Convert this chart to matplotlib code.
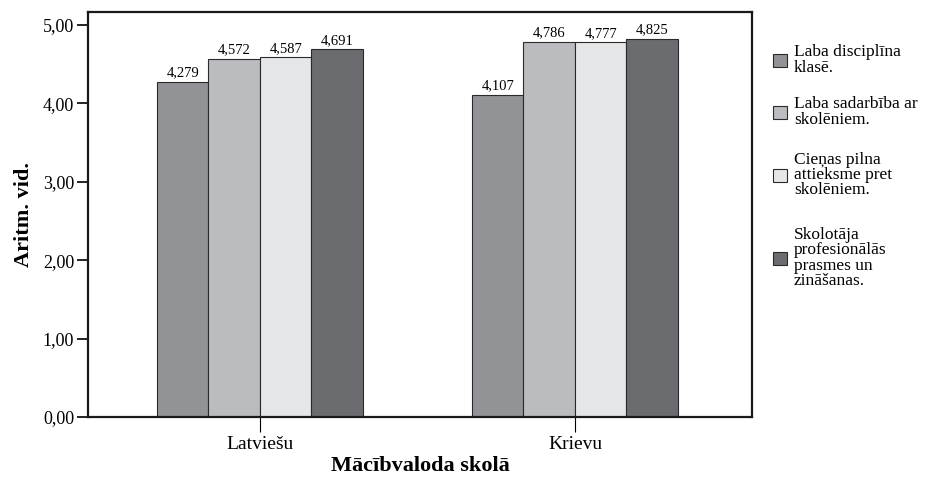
import numpy as np
import matplotlib.pyplot as plt
from matplotlib.patches import Rectangle

plt.rcParams['font.family'] = ['Liberation Serif', 'DejaVu Serif']

groups = ['Latviešu', 'Krievu']
series = [
    'Laba disciplīna\nklasē.',
    'Laba sadarbība ar\nskolēniem.',
    'Cieņas pilna\nattieksme pret\nskolēniem.',
    'Skolotāja\nprofesionālās\nprasmes un\nzināšanas.',
]
values = [
    [4.279, 4.107],
    [4.572, 4.786],
    [4.587, 4.777],
    [4.691, 4.825],
]
colors = ['#929397', '#bbbcc0', '#e5e6e8', '#6b6c70']
yticks = [0, 1, 2, 3, 4, 5]

W, H = 926, 479
fig = plt.figure(figsize=(W / 100, H / 100), dpi=100)
ax = fig.add_axes([88 / W, 1 - 417 / H, (752 - 88) / W, (417 - 12) / H])

x = np.arange(len(groups))
w = 0.1635
for i, (vals, c) in enumerate(zip(values, colors)):
    pos = x + (i - 1.5) * w
    ax.bar(pos, vals, width=w, color=c, edgecolor='#2a2a2a', linewidth=0.8)
    for p, v in zip(pos, vals):
        ax.text(p, v + 0.03, f'{v:.3f}'.replace('.', ','), ha='center',
                va='bottom', fontsize=10.5)

ax.set_xlim(-0.546, 1.562)
ax.set_ylim(0, 5.166)
ax.set_xticks(x)
ax.set_xticklabels(groups, fontsize=14)
ax.set_yticks(yticks)
ax.set_yticklabels([f'{t:.2f}'.replace('.', ',') for t in yticks], fontsize=13)
ax.tick_params(axis='x', length=11, width=0.8, pad=3)
ax.tick_params(axis='y', length=8, width=1.2, pad=2)
for s in ax.spines.values():
    s.set_linewidth(1.6)
    s.set_color('#1a1a1a')

ax.set_ylabel('Aritm. vid.', fontsize=16, fontweight='bold', labelpad=6)
ax.set_xlabel('Mācībvaloda skolā', fontsize=16, fontweight='bold', labelpad=2)

# legend drawn by hand: square swatch + multi-line label
centers = [60, 112, 175, 258]
for lab, c, yc in zip(series, colors, centers):
    fig.add_artist(Rectangle((773 / W, 1 - (yc + 6.5) / H), 14 / W, 13 / H,
                             transform=fig.transFigure, facecolor=c,
                             edgecolor='#2a2a2a', linewidth=0.8))
    fig.text(794 / W, 1 - yc / H, lab, ha='left', va='center',
             fontsize=12.5, linespacing=0.95)

fig.savefig('out.png', dpi=100)
